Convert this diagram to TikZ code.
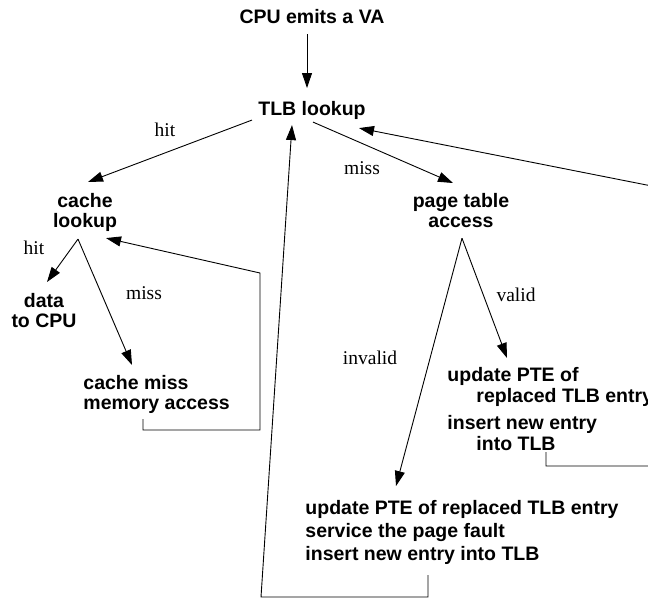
\documentclass[tikz,border=0pt]{standalone}
\usepackage{fontspec}
\setmainfont{Liberation Serif}
\setsansfont{Liberation Sans}
\usetikzlibrary{arrows.meta}

\begin{document}
\begin{tikzpicture}[x=1pt, y=-1pt, line width=0.9pt,
    >={Triangle[length=15pt,width=10pt]},
    box/.style={font=\fontsize{19.5}{20}\sffamily\bfseries\selectfont, inner sep=0pt, align=center},
    lbl/.style={font=\fontsize{19.5}{20}\rmfamily\selectfont, inner sep=0pt}]
    \useasboundingbox (0,0) rectangle (648,598);

    \begin{scope}
        \node[box, anchor=north] (cpu) at (312,9) {CPU emits a VA};
        \node[box, anchor=north] (tlb) at (312,101) {TLB lookup};
        \node[box, anchor=north] (cache) at (85,193) {cache\\lookup};
        \node[box, anchor=north] (data) at (44,293) {data\\to CPU};
        \node[box, anchor=north west, align=left] (cmiss) at (83,375) {cache miss\\memory access};
        \node[box, anchor=north] (ptable) at (461,193) {page table\\access};
        \node[box, anchor=north west, align=left, font=\fontsize{19.5}{21}\sffamily\bfseries\selectfont] (valid) at (447,367)
            {update PTE of\\\hspace*{29pt}replaced TLB entry\\[6pt]insert new entry\\\hspace*{29pt}into TLB};
        \node[box, anchor=north west, align=left, font=\fontsize{19.5}{23}\sffamily\bfseries\selectfont] (fault) at (305,500)
            {update PTE of replaced TLB entry\\service the page fault\\insert new entry into TLB};
    \end{scope}

    \node[lbl] (hitA) at (165,130) {hit};
    \node[lbl] (missA) at (362,168) {miss};
    \node[lbl] (hitB) at (34,248) {hit};
    \node[lbl] (missB) at (144,293) {miss};
    \node[lbl] (lvalid) at (516,295) {valid};
    \node[lbl] (linvalid) at (370,358) {invalid};

    \coordinate (cmA) at (260,430);
    \coordinate (cmB) at (260,273);
    \coordinate (vbA) at (672,466);
    \coordinate (vbB) at (672,190);
    \coordinate (fbA) at (261,597);

    \draw[->] ([xshift=-5pt,yshift=-10pt]cpu.south) -- ([xshift=-5pt,yshift=13pt]tlb.north);
    \draw[->] ([xshift=-6pt]tlb.south west) -- ([xshift=3pt,yshift=11pt]cache.north);
    \draw[->] ([xshift=1pt,yshift=-2pt]tlb.south) -- ([xshift=-8pt,yshift=10pt]ptable.north);

    \draw[->] ([xshift=-7pt,yshift=-7pt]cache.south) -- ([xshift=3pt,yshift=11pt]data.north);
    \draw[->] ([xshift=-7pt,yshift=-7pt]cache.south) -- ([xshift=49pt,yshift=10pt]cmiss.north west);
    \draw[->] ([xshift=60pt,yshift=-5pt]cmiss.south west) |- (cmA) -- (cmB) -- ([xshift=21pt,yshift=-6pt]cache.south);

    \draw[->] ([xshift=1pt,yshift=-10pt]ptable.south) -- ([xshift=60pt,yshift=9pt]valid.north west);
    \draw[->] ([xshift=1pt,yshift=-10pt]ptable.south) -- ([xshift=91pt,yshift=14pt]fault.north west);

    \draw[->] ([xshift=99pt,yshift=-1pt]valid.south west) |- (vbA) -- (vbB) -- ([xshift=47pt,yshift=-8pt]tlb.south);
    \draw[->] ([xshift=123pt,yshift=-10pt]fault.south west) |- (fbA) -- ([xshift=-20pt,yshift=-5pt]tlb.south);

\end{tikzpicture}
\end{document}
